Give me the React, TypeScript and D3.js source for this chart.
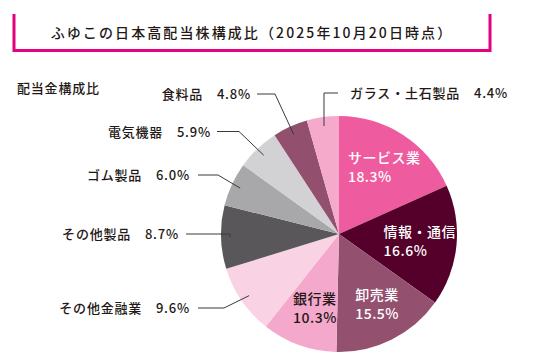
import React from "react";
import * as d3 from "d3";

const categories = ["サービス業", "情報・通信", "卸売業", "銀行業", "その他金融業", "その他製品", "ゴム製品", "電気機器", "食料品", "ガラス・土石製品"];
const values = [18.3, 16.6, 15.5, 10.3, 9.6, 8.7, 6.0, 5.9, 4.8, 4.4];
const colors = ["#EE5B9F", "#54002A", "#93506F", "#F4A8CC", "#F9D2E3", "#595759", "#A8A8AB", "#D2D2D4", "#92506E", "#F5AACB"];
const insideLabel = [true, true, true, true, false, false, false, false, false, false];
const insideDark = [false, false, false, true, false, false, false, false, false, false];

// outer label layout: label y, elbow x, line end x, text x
const outerLayout: Record<string, { y: number; elbowX: number; lineEndX: number; textX: number; side: "left" | "top" }> = {
  "その他金融業": { y: 308, elbowX: 224, lineEndX: 198, textX: 190, side: "left" },
  "その他製品": { y: 234, elbowX: 230, lineEndX: 186, textX: 179, side: "left" },
  "ゴム製品": { y: 175, elbowX: 218, lineEndX: 198, textX: 190, side: "left" },
  "電気機器": { y: 131.5, elbowX: 239, lineEndX: 217, textX: 211, side: "left" },
  "食料品": { y: 94, elbowX: 275, lineEndX: 257, textX: 251, side: "left" },
  "ガラス・土石製品": { y: 93, elbowX: 323, lineEndX: 338, textX: 350, side: "top" },
};

const W = 559, H = 360;
const cx = 339, cy = 234, R = 118;
const FONT = "'Noto Sans CJK JP', 'Noto Sans', sans-serif";

export default function App() {
  const pie = d3.pie<number>().sort(null).value((d) => d)(values);
  const arc = d3.arc<d3.PieArcDatum<number>>().innerRadius(0).outerRadius(R);
  const labelArc = d3.arc<d3.PieArcDatum<number>>().innerRadius(79).outerRadius(79);
  const leadArc = d3.arc<d3.PieArcDatum<number>>().innerRadius(109).outerRadius(109);

  return (
    <svg width={W} height={H} style={{ position: "absolute", left: 0, top: 0, background: "#fff" }} fontFamily={FONT}>
      <path d="M14,14 V50.5 H490 V14" fill="none" stroke="#E4007F" strokeWidth={3} />
      <text x={252} y={38} textAnchor="middle" fontSize={14} fontWeight={500} letterSpacing={2.1} fill="#231815">
        ふゆこの日本高配当株構成比（2025年10月20日時点）
      </text>
      <text x={17} y={93} fontSize={13} fontWeight={500} letterSpacing={0.8} fill="#231815">配当金構成比</text>

      <g transform={`translate(${cx},${cy})`}>
        {pie.map((p, i) => (
          <path key={i} d={arc(p) || ""} fill={colors[i]} />
        ))}
      </g>

      {pie.map((p, i) => {
        if (!insideLabel[i]) return null;
        const [lx, ly] = labelArc.centroid(p);
        const w = categories[i].length * 14.8;
        const x = cx + lx - w / 2 + 3;
        const y = cy + ly;
        const fill = insideDark[i] ? "#231815" : "#fff";
        return (
          <g key={"in" + i} fontSize={14} fontWeight={500} fill={fill} letterSpacing={0.5}>
            <text x={x} y={y - 9.5 + 5}>{categories[i]}</text>
            <text x={x} y={y + 9.5 + 5}>{values[i].toFixed(1)}%</text>
          </g>
        );
      })}

      {pie.map((p, i) => {
        if (insideLabel[i]) return null;
        const lay = outerLayout[categories[i]];
        const [sx, sy] = leadArc.centroid(p);
        const px = cx + sx, py = cy + sy;
        const label = `${categories[i]}\u3000${values[i].toFixed(1)}%`;
        if (lay.side === "top") {
          return (
            <g key={"out" + i}>
              <path d={`M${px},${py} V${lay.y} H${lay.lineEndX}`} fill="none" stroke="#3a3a3a" strokeWidth={1} />
              <text x={lay.textX} y={lay.y + 5} fontSize={13} fontWeight={500} letterSpacing={0.8} fill="#231815">{label}</text>
            </g>
          );
        }
        return (
          <g key={"out" + i}>
            <path d={`M${px},${py} L${lay.elbowX},${lay.y} H${lay.lineEndX}`} fill="none" stroke="#3a3a3a" strokeWidth={1} />
            <text x={lay.textX} y={lay.y + 5} textAnchor="end" fontSize={13} fontWeight={500} letterSpacing={0.8} fill="#231815">{label}</text>
          </g>
        );
      })}
    </svg>
  );
}
